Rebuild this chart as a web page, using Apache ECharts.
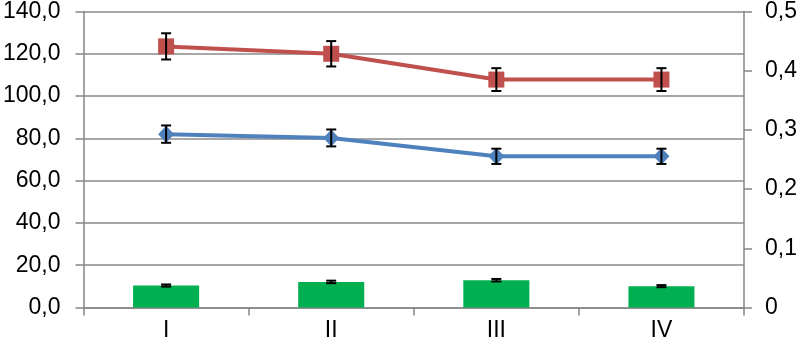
<!DOCTYPE html>
<html>
<head>
<meta charset="utf-8">
<script src="https://cdn.jsdelivr.net/npm/echarts@6/dist/echarts.min.js"></script>
<style>html,body{margin:0;padding:0;background:#fff;}#c{width:800px;height:346px;}</style>
</head>
<body>
<div id="c"></div>
<script>
var categories = ['I', 'II', 'III', 'IV'];
var redValues = [123.5, 120.0, 107.8, 107.8];
var redErr = [6.2, 6.0, 5.4, 5.4];
var blueValues = [82.0, 80.2, 71.5, 71.5];
var blueErr = [4.1, 4.0, 3.6, 3.6];
var greenValues = [10.4, 12.1, 12.9, 10.1];
var greenErr = [0.5, 0.6, 0.6, 0.5];

function errData(vals, errs) {
  return vals.map(function (v, i) { return [i, v - errs[i], v + errs[i]]; });
}
function errRender(params, api) {
  var x = api.value(0);
  var lo = api.coord([x, api.value(1)]);
  var hi = api.coord([x, api.value(2)]);
  var hw = 5;
  var st = { stroke: '#000', lineWidth: 2 };
  return {
    type: 'group',
    children: [
      { type: 'line', shape: { x1: lo[0], y1: lo[1], x2: hi[0], y2: hi[1] }, style: st },
      { type: 'line', shape: { x1: lo[0] - hw, y1: lo[1], x2: lo[0] + hw, y2: lo[1] }, style: st },
      { type: 'line', shape: { x1: hi[0] - hw, y1: hi[1], x2: hi[0] + hw, y2: hi[1] }, style: st }
    ]
  };
}
var font = { fontFamily: 'Liberation Sans', fontSize: 23, color: '#000' };
var chart = echarts.init(document.getElementById('c'));
chart.setOption({
  animation: false,
  grid: { left: 81, right: 56, top: 10, bottom: 38.5, containLabel: false },
  xAxis: {
    type: 'category', data: categories, boundaryGap: true,
    axisLine: { lineStyle: { color: '#868686', width: 1.5 } },
    axisTick: { show: true, length: 8, alignWithLabel: false, lineStyle: { color: '#868686', width: 1.5 } },
    axisLabel: Object.assign({ margin: 12 }, font)
  },
  yAxis: [
    {
      type: 'value', min: 0, max: 140, interval: 20,
      axisLine: { show: true, lineStyle: { color: '#868686', width: 1.5 } },
      axisTick: { show: true, length: 8, lineStyle: { color: '#868686', width: 1.5 } },
      splitLine: { show: true, lineStyle: { color: '#8a8a8a', width: 1.5 } },
      axisLabel: Object.assign({ margin: 23, formatter: function (v) { return v.toFixed(1).replace('.', ','); } }, font)
    },
    {
      type: 'value', min: 0, max: 0.5, interval: 0.1, position: 'right',
      axisLine: { show: true, lineStyle: { color: '#868686', width: 1.5 } },
      axisTick: { show: true, length: 8, lineStyle: { color: '#868686', width: 1.5 } },
      splitLine: { show: false },
      axisLabel: Object.assign({ margin: 21, formatter: function (v) { return v === 0 ? '0' : (Math.round(v * 10) / 10).toString().replace('.', ','); } }, font)
    }
  ],
  series: [
    {
      type: 'bar', data: greenValues, yAxisIndex: 0, barCategoryGap: '60%',
      itemStyle: { color: '#00B050' }, z: 2
    },
    {
      type: 'line', data: redValues, yAxisIndex: 0, symbol: 'rect', symbolSize: 16,
      lineStyle: { color: '#C0504D', width: 4 }, itemStyle: { color: '#C0504D' }, z: 3
    },
    {
      type: 'line', data: blueValues, yAxisIndex: 0, symbol: 'diamond', symbolSize: [16, 17],
      lineStyle: { color: '#4F81BD', width: 4 }, itemStyle: { color: '#4F81BD' }, z: 3
    },
    { type: 'custom', renderItem: errRender, data: errData(redValues, redErr), z: 10 },
    { type: 'custom', renderItem: errRender, data: errData(blueValues, blueErr), z: 10 },
    { type: 'custom', renderItem: errRender, data: errData(greenValues, greenErr), z: 10 }
  ]
});
</script>
</body>
</html>
